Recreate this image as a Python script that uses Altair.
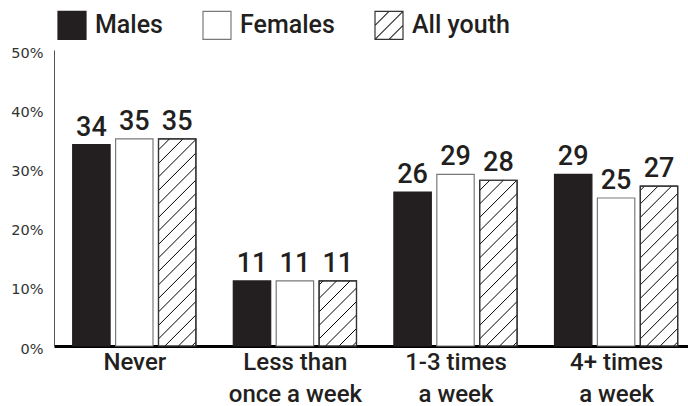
import json
import altair as alt
import pandas as pd

# ---------------- data ----------------
categories = ["Never", "Less than\nonce a week", "1-3 times\na week", "4+ times\na week"]
series = ["Males", "Females", "All youth"]
males = [34, 11, 26, 29]
females = [35, 11, 29, 25]
all_youth = [35, 11, 28, 27]
y_ticks = [0, 10, 20, 30, 40, 50]

rows = []
for gi, cat in enumerate(categories):
    for si, (name, vals) in enumerate(zip(series, [males, females, all_youth])):
        rows.append({"category": cat, "group": gi, "series": name, "sidx": si, "value": vals[gi]})
df = pd.DataFrame(rows)

# ---------------- layout / style constants ----------------
PLOT_W = 634
PLOT_H = 296
Y_MAX = 50
GROUP_PX = 160.6          # pixels per category group
BAR_PX = 37.4             # bar width in px
BAR_STEP_PX = 42.9        # distance between bar centres in a group
SY = PLOT_H / Y_MAX       # px per percentage point
X_MAX = PLOT_W / GROUP_PX
HATCH_SPACING = 13.5      # vertical px between hatch lines
HATCH_PHASE = 4.0

DARK = "#231f20"
FONT = "Roboto, sans-serif"

fill_scale = alt.Scale(domain=series, range=[DARK, "#ffffff", "#ffffff"])
stroke_scale = alt.Scale(domain=series, range=[DARK, "#7a7a7a", "#333333"])
hatch_symbol = "M-1,-1H1V1H-1Z M-1,0L0,-1 M-1,1L1,-1 M0,1L1,0"
shape_scale = alt.Scale(domain=series, range=["square", "square", hatch_symbol])

legend_def = alt.Legend(
    title=None, orient="none", legendX=3, legendY=-40, direction="horizontal",
    symbolSize=784, symbolStrokeWidth=1.2, symbolOpacity=1,
    labelFont=FONT, labelFontSize=25, labelFontWeight=500, labelColor=DARK, labelOffset=8,
    columnPadding=37, padding=0,
)

label_expr = "split(" + json.dumps(categories) + "[floor(datum.value)], '\\n')"
x_axis = alt.Axis(
    values=[i + 0.5 for i in range(len(categories))], labelExpr=label_expr,
    ticks=False, grid=False, domainColor="#000000", domainWidth=3,
    labelFont=FONT, labelFontSize=24, labelFontWeight=500, labelColor=DARK,
    labelPadding=4, labelLineHeight=32, labelAngle=0, labelFlush=False,
    labelOverlap=False, labelBound=False,
)
y_axis = alt.Axis(
    values=y_ticks, labelExpr="datum.value + '%'", ticks=False, grid=False,
    domainColor="#555555", domainWidth=1, labelFont="DejaVu Sans", labelFontSize=14.5,
    labelColor="#333333", labelPadding=11, labelOffset=3,
)
x_scale = alt.Scale(domain=[0, X_MAX], nice=False, zero=False)
y_scale = alt.Scale(domain=[0, Y_MAX], nice=False)


def xq(field):
    return alt.X(field, type="quantitative", scale=x_scale, axis=x_axis, title=None)


def yq(field):
    return alt.Y(field, type="quantitative", scale=y_scale, axis=y_axis, title=None)


base = (
    alt.Chart(df)
    .transform_calculate(xc=f"datum.group + 0.5 + (datum.sidx - 1) * {BAR_STEP_PX / GROUP_PX}")
    .transform_calculate(xl=f"datum.xc - {BAR_PX / 2 / GROUP_PX}")
    .transform_calculate(xr=f"datum.xc + {BAR_PX / 2 / GROUP_PX}")
)

bars = base.mark_bar(strokeWidth=1.2).encode(
    x=xq("xl"), x2="xr:Q", y=yq("value"), y2=alt.datum(0),
    fill=alt.Fill("series:N", scale=fill_scale, legend=legend_def),
    stroke=alt.Stroke("series:N", scale=stroke_scale, legend=legend_def),
)

hatch = (
    base.transform_filter("datum.series == 'All youth'")
    .transform_calculate(n="sequence(0, 30)")
    .transform_flatten(["n"])
    .transform_calculate(hp=f"datum.value * {SY}")
    .transform_calculate(d=f"datum.n * {HATCH_SPACING} - {BAR_PX} + {HATCH_PHASE}")
    .transform_filter("datum.d < datum.hp")
    .transform_calculate(xs="max(0, -datum.d)")
    .transform_calculate(xe=f"min({BAR_PX}, datum.hp - datum.d)")
    .transform_filter("datum.xe > datum.xs")
    .transform_calculate(hx1=f"datum.xl + datum.xs / {GROUP_PX}")
    .transform_calculate(hy1=f"(datum.xs + datum.d) / {SY}")
    .transform_calculate(hx2=f"datum.xl + datum.xe / {GROUP_PX}")
    .transform_calculate(hy2=f"(datum.xe + datum.d) / {SY}")
    .mark_rule(color="#000000", strokeWidth=1)
    .encode(x=xq("hx1"), x2="hx2:Q", y=yq("hy1"), y2="hy2:Q")
)

outline = (
    base.transform_filter("datum.series == 'All youth'")
    .mark_bar(fillOpacity=0, stroke="#333333", strokeWidth=1.2)
    .encode(x=xq("xl"), x2="xr:Q", y=yq("value"), y2=alt.datum(0))
)

labels = base.mark_text(
    baseline="alphabetic", dy=-9, font=FONT, fontSize=27, fontWeight=500, color=DARK
).encode(x=xq("xc"), y=yq("value"), text=alt.Text("value:Q", format="d"))

legend_layer = base.mark_point(filled=True, size=0, opacity=0).encode(
    x=xq("xc"), y=yq("value"),
    fill=alt.Fill("series:N", scale=fill_scale, legend=legend_def),
    stroke=alt.Stroke("series:N", scale=stroke_scale, legend=legend_def),
    shape=alt.Shape("series:N", scale=shape_scale, legend=legend_def),
)

chart = (
    alt.layer(bars, hatch, outline, labels, legend_layer)
    .properties(
        width=PLOT_W, height=PLOT_H, autosize="none",
        padding={"left": 54, "top": 50, "right": 0, "bottom": 60},
        background="#ffffff",
    )
    .configure_view(stroke=None)
)

chart.save("out.html", embed_options={"renderer": "svg", "actions": False})
